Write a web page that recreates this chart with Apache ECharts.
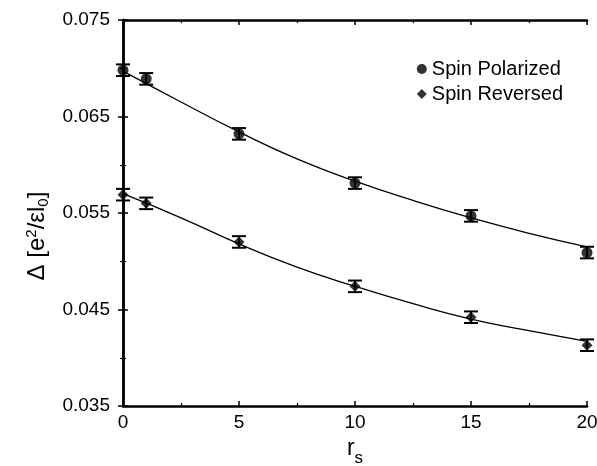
<!DOCTYPE html>
<html>
<head>
<meta charset="utf-8">
<script src="https://cdn.jsdelivr.net/npm/echarts@6/dist/echarts.min.js"></script>
<style>html,body{margin:0;padding:0;background:#fff}#c{width:597px;height:466px}</style>
</head>
<body>
<div id="c"></div>
<script>
// Data
const rs = [0, 1, 5, 10, 15, 20];
const polarized = [0.0698, 0.0689, 0.0632, 0.0581, 0.0547, 0.0509];
const polarizedErr = [0.0006, 0.0006, 0.0006, 0.0006, 0.0006, 0.0006];
const reversed = [0.0569, 0.0560, 0.0520, 0.0474, 0.0442, 0.0413];
const reversedErr = [0.0006, 0.0006, 0.0006, 0.0006, 0.0006, 0.0006];
// Fitted curves
const fitX = [0, 2.5, 5, 7.5, 10, 12.5, 15, 17.5, 20];
const fitPolarized = [0.0697, 0.0665, 0.0634, 0.0606, 0.0583, 0.0563, 0.0545, 0.0529, 0.0515];
const fitReversed = [0.0570, 0.0545, 0.0518, 0.0494, 0.0474, 0.0456, 0.0440, 0.0428, 0.0417];
const xTicks = [0, 5, 10, 15, 20];
const yTicks = [0.035, 0.045, 0.055, 0.065, 0.075];

const FONT = '"Liberation Sans", Arial, sans-serif';
const chart = echarts.init(document.getElementById('c'));

function pts(xs, ys) { return xs.map((x, i) => [x, ys[i]]); }
function errData(xs, ys, es) { return xs.map((x, i) => [x, ys[i] - es[i], ys[i] + es[i]]); }
function errRender(params, api) {
  const x = api.value(0);
  const lo = api.coord([x, api.value(1)]);
  const hi = api.coord([x, api.value(2)]);
  const hw = 7;
  const st = { stroke: '#000', lineWidth: 2 };
  return {
    type: 'group',
    children: [
      { type: 'line', shape: { x1: lo[0], y1: lo[1], x2: hi[0], y2: hi[1] }, style: st },
      { type: 'line', shape: { x1: lo[0] - hw, y1: lo[1], x2: lo[0] + hw, y2: lo[1] }, style: st },
      { type: 'line', shape: { x1: hi[0] - hw, y1: hi[1], x2: hi[0] + hw, y2: hi[1] }, style: st }
    ]
  };
}

const axisLine = { show: true, lineStyle: { color: '#000', width: 2.5 } };
const tickCommon = { show: true, inside: true, length: 5, lineStyle: { color: '#000', width: 1.5 } };
const minorCommon = { show: true, splitNumber: 2, length: 3, lineStyle: { color: '#000', width: 1.2 } };

chart.setOption({
  animation: false,
  backgroundColor: '#fff',
  textStyle: { fontFamily: FONT },
  grid: { left: 123, right: 10, top: 20, bottom: 60, containLabel: false, outerBoundsMode: 'none' },
  legend: {
    orient: 'vertical', right: 34, top: 59, itemGap: 5, padding: 0,
    itemWidth: 10, itemHeight: 10,
    textStyle: { fontFamily: FONT, fontSize: 20, color: '#000', padding: [0, 0, 0, 0] },
    data: [{ name: 'Spin Polarized', icon: 'circle' }, { name: 'Spin Reversed', icon: 'diamond' }]
  },
  xAxis: [{
    type: 'value', min: 0, max: 20, interval: 5, position: 'bottom',
    axisLine, axisTick: tickCommon, minorTick: minorCommon, splitLine: { show: false },
    axisLabel: { color: '#000', fontSize: 19, fontFamily: FONT, margin: 7,
      formatter: v => xTicks.includes(v) ? String(v) : '' },
    name: '{r|r}{s|s}', nameLocation: 'middle', nameGap: 22,
    nameTextStyle: { rich: { r: { fontSize: 23, fontFamily: FONT, color: '#000' },
      s: { fontSize: 17, fontFamily: FONT, color: '#000', verticalAlign: 'bottom', padding: [20, 0, 0, 0] } } }
  }, {
    type: 'value', min: 0, max: 20, interval: 5, position: 'top',
    axisLine, axisTick: tickCommon, minorTick: minorCommon, splitLine: { show: false },
    axisLabel: { show: false }
  }],
  yAxis: [{
    type: 'value', min: 0.035, max: 0.075, interval: 0.01, position: 'left',
    axisLine, axisTick: tickCommon, minorTick: minorCommon, splitLine: { show: false },
    axisLabel: { color: '#000', fontSize: 19, fontFamily: FONT, margin: 13,
      formatter: v => { const t = yTicks.find(k => Math.abs(k - v) < 1e-9); return t !== undefined ? t.toFixed(3) : ''; } },
    name: '{t|Δ [e}{sup|2}{t|/εl}{sub|0}{e|]}', nameLocation: 'middle', nameGap: 72, nameRotate: 90,
    nameTextStyle: { rich: {
      t: { fontSize: 24, fontFamily: FONT, color: '#000' },
      e: { fontSize: 24, fontFamily: FONT, color: '#000', padding: [0, 46, 0, 0] },
      sup: { fontSize: 15, fontFamily: FONT, color: '#000', verticalAlign: 'top', padding: [0, 0, 12, 0] },
      sub: { fontSize: 15, fontFamily: FONT, color: '#000', verticalAlign: 'bottom', padding: [12, 0, 0, 0] } } }
  }, {
    type: 'value', min: 0.035, max: 0.075, interval: 0.01, position: 'right',
    axisLine, axisTick: tickCommon, minorTick: minorCommon, splitLine: { show: false },
    axisLabel: { show: false }
  }],
  series: [
    { name: 'fitP', type: 'line', data: pts(fitX, fitPolarized), smooth: true, showSymbol: false,
      lineStyle: { color: '#000', width: 1.3 }, silent: true, z: 2 },
    { name: 'fitR', type: 'line', data: pts(fitX, fitReversed), smooth: true, showSymbol: false,
      lineStyle: { color: '#000', width: 1.3 }, silent: true, z: 2 },
    { name: 'errP', type: 'custom', renderItem: errRender, data: errData(rs, polarized, polarizedErr), z: 3, clip: false },
    { name: 'errR', type: 'custom', renderItem: errRender, data: errData(rs, reversed, reversedErr), z: 3, clip: false },
    { name: 'Spin Polarized', type: 'scatter', data: pts(rs, polarized), symbol: 'circle', symbolSize: 11,
      itemStyle: { color: '#000' }, z: 4, clip: false },
    { name: 'Spin Reversed', type: 'scatter', data: pts(rs, reversed), symbol: 'diamond', symbolSize: 11,
      itemStyle: { color: '#000' }, z: 4, clip: false }
  ]
});
</script>
</body>
</html>
